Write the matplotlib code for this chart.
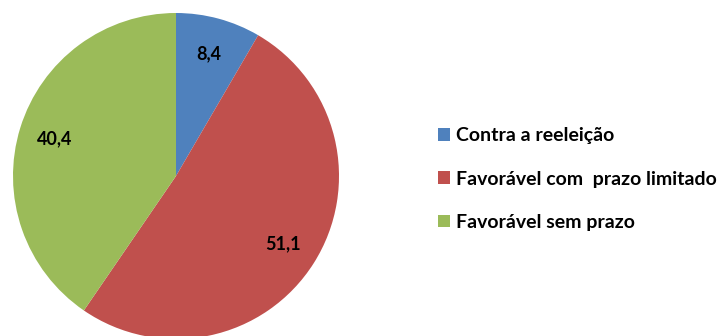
import numpy as np
import matplotlib.pyplot as plt
from matplotlib.patches import Patch

categories = ["Contra a reeleição", "Favorável com  prazo limitado", "Favorável sem prazo"]
values = [8.4, 51.1, 40.4]
labels = ["8,4", "51,1", "40,4"]
colors = ["#4F81BD", "#C0504D", "#9BBB59"]

plt.rcParams["font.family"] = ["Lato", "DejaVu Sans"]

fig = plt.figure(figsize=(7.25, 3.36), dpi=100)
ax = fig.add_axes([13 / 725, -3 / 336, 326 / 725, 326 / 336])

wedges, _ = ax.pie(values, colors=colors, startangle=90, counterclock=False,
                   normalize=True)
ax.set_xlim(-1, 1)
ax.set_ylim(-1, 1)
ax.set_aspect("equal")

for w, lab in zip(wedges, labels):
    mid = np.deg2rad((w.theta1 + w.theta2) / 2)
    ax.text(0.78 * np.cos(mid), 0.78 * np.sin(mid), lab, ha="center", va="center",
            fontsize=13, fontweight="bold", color="black")

handles = [Patch(facecolor=c, edgecolor="none") for c in colors]
fig.legend(handles, categories, loc="center left", bbox_to_anchor=(438 / 725, 157 / 336),
           frameon=False, prop={"weight": "bold", "size": 14},
           handlelength=0.6, handleheight=0.6, handletextpad=0.35, labelspacing=1.35,
           borderaxespad=0, borderpad=0)

fig.savefig("out.png", dpi=100)
